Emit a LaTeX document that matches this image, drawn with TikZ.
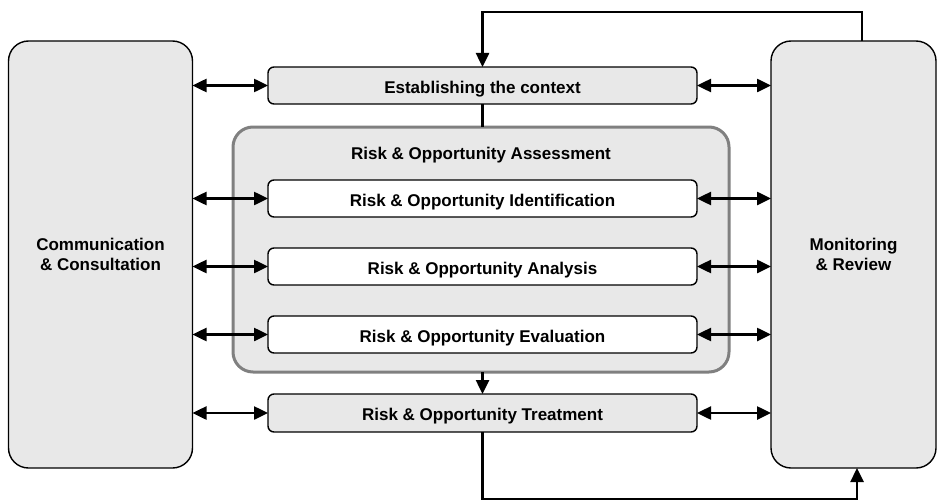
\documentclass[tikz,border=0pt]{standalone}
\usepackage{fontspec}
\setmainfont{Liberation Sans}
\usetikzlibrary{arrows.meta,calc}
\definecolor{boxgray}{HTML}{E8E8E8}
\definecolor{edgegray}{HTML}{808080}
\begin{document}
\begin{tikzpicture}[x=1pt,y=-1pt,
  txt/.style={font=\fontsize{17}{20}\selectfont\bfseries, align=center},
  oneline/.style={text height=15pt, text depth=0pt},
  bigbox/.style={txt, draw=black, line width=1.4pt, fill=boxgray, rounded corners=20pt, inner sep=0pt, outer sep=0pt},
  smallbox/.style={txt, oneline, draw=black, line width=1.4pt, fill=boxgray, rounded corners=6pt, minimum width=429pt, inner sep=0pt, outer sep=0pt},
  whitebox/.style={smallbox, fill=white},
  assessbox/.style={draw=edgegray, line width=3pt, fill=boxgray, rounded corners=20pt, inner sep=0pt, outer sep=0pt},
  conn/.style={line width=2.5pt, draw=black},
  onearrow/.style={conn, -{Triangle[length=14pt,width=13pt]}},
  dblarrow/.style={conn, {Triangle[length=14pt,width=13pt]}-{Triangle[length=14pt,width=13pt]}}
]
\useasboundingbox (0,0) rectangle (944,503);

\node[bigbox, minimum width=184pt, minimum height=427pt] (comm) at (100.5,254.5) {Communication\\\& Consultation};
\node[bigbox, minimum width=165pt, minimum height=427pt] (mon) at (853.5,254.5) {Monitoring\\\& Review};

\node[assessbox, minimum width=496pt, minimum height=245pt] (assess) at (481,249.5) {};
\node[txt, oneline, inner sep=0pt] (assesstitle) at (481,152) {Risk \& Opportunity Assessment};

\node[smallbox, minimum height=37pt] (est) at (482.5,85.5) {Establishing the context};
\node[whitebox, minimum height=37pt] (ident) at (482.5,198.5) {Risk \& Opportunity Identification};
\node[whitebox, minimum height=37pt] (anal) at (482.5,266.5) {Risk \& Opportunity Analysis};
\node[whitebox, minimum height=37pt] (eval) at (482.5,334.5) {Risk \& Opportunity Evaluation};
\node[smallbox, minimum height=38pt] (treat) at (482.5,413) {Risk \& Opportunity Treatment};

\foreach \n in {est,ident,anal,eval,treat}{
  \draw[dblarrow] (comm.east |- \n.west) -- (\n.west);
  \draw[dblarrow] (\n.east) -- (mon.west |- \n.east);
}

\coordinate (topright) at (862,12);
\draw[onearrow] (mon.north -| topright) -- (topright) -| (est.north);
\draw[conn] (est.south) -- (est.south |- assess.north);
\draw[onearrow] (assess.south -| treat.north) -- (treat.north);
\coordinate (botright) at (857,499);
\draw[onearrow] (treat.south) |- (botright) -- (mon.south -| botright);
\end{tikzpicture}
\end{document}
